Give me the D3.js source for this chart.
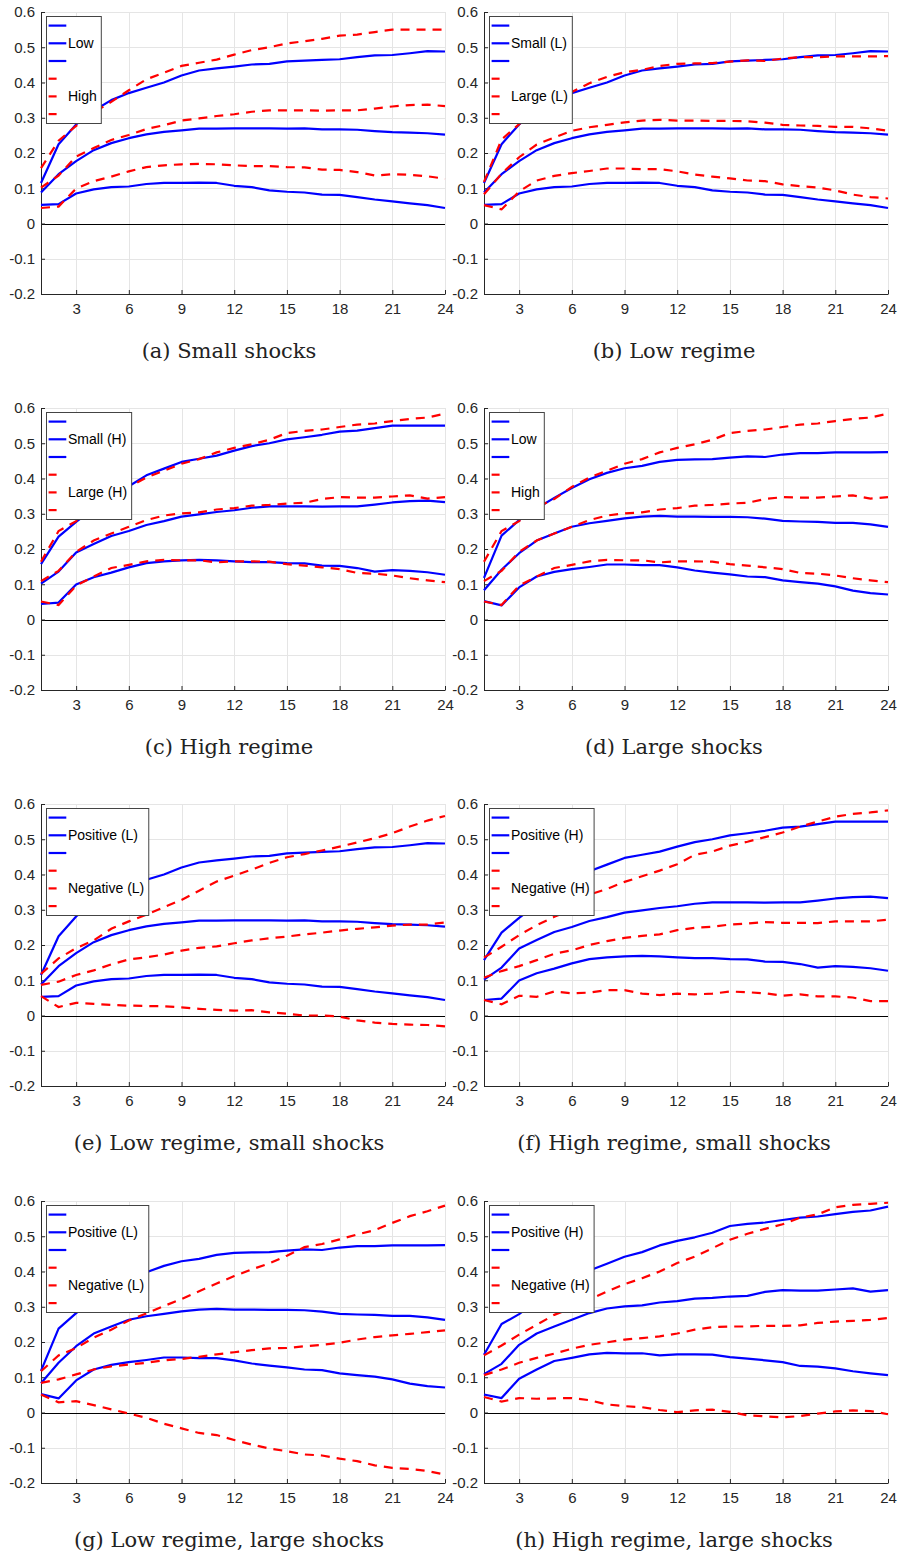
<!DOCTYPE html>
<html>
<head>
<meta charset="utf-8">
<script src="https://cdn.jsdelivr.net/npm/d3@7"></script>
<style>
  body { margin: 0; background: #fff; }
  svg { display: block; }
</style>
</head>
<body>
<svg id="chart" width="899" height="1557"></svg>
<script>
// horizons and ticks
const horizons = d3.range(1, 25);
const xTicks = [3, 6, 9, 12, 15, 18, 21, 24];
const yTicks = [-0.2, -0.1, 0, 0.1, 0.2, 0.3, 0.4, 0.5, 0.6];

// low regime, small shocks (positive)
const lowSmallUpper = [0.115, 0.225, 0.281, 0.32, 0.35, 0.37, 0.385, 0.40, 0.42, 0.434, 0.44, 0.445, 0.451, 0.453, 0.46, 0.462, 0.464, 0.466, 0.472, 0.477, 0.478, 0.483, 0.489, 0.488];
const lowSmallMid = [0.088, 0.14, 0.177, 0.208, 0.228, 0.242, 0.253, 0.26, 0.264, 0.269, 0.269, 0.27, 0.27, 0.27, 0.269, 0.27, 0.267, 0.267, 0.266, 0.262, 0.259, 0.258, 0.256, 0.252];
const lowSmallLower = [0.053, 0.055, 0.085, 0.097, 0.103, 0.105, 0.112, 0.115, 0.115, 0.116, 0.115, 0.107, 0.103, 0.094, 0.09, 0.088, 0.082, 0.081, 0.075, 0.068, 0.063, 0.057, 0.052, 0.044];

// high regime, small shocks (positive)
const highSmallUpper = [0.157, 0.235, 0.277, 0.315, 0.345, 0.378, 0.409, 0.428, 0.447, 0.456, 0.465, 0.479, 0.492, 0.50, 0.511, 0.517, 0.524, 0.533, 0.536, 0.543, 0.55, 0.55, 0.55, 0.55];
const highSmallMid = [0.102, 0.136, 0.19, 0.214, 0.237, 0.251, 0.268, 0.279, 0.292, 0.298, 0.305, 0.31, 0.317, 0.321, 0.321, 0.321, 0.32, 0.321, 0.321, 0.326, 0.332, 0.336, 0.337, 0.333];
const highSmallLower = [0.044, 0.048, 0.099, 0.12, 0.133, 0.148, 0.16, 0.165, 0.168, 0.169, 0.168, 0.165, 0.163, 0.163, 0.16, 0.159, 0.153, 0.152, 0.146, 0.136, 0.14, 0.138, 0.134, 0.127];

// low regime, large shocks (positive)
const lowLargeUpper = [0.118, 0.238, 0.282, 0.315, 0.345, 0.373, 0.398, 0.416, 0.429, 0.436, 0.447, 0.453, 0.454, 0.455, 0.459, 0.463, 0.461, 0.468, 0.472, 0.472, 0.474, 0.474, 0.474, 0.475];
const lowLargeMid = [0.083, 0.141, 0.188, 0.224, 0.244, 0.263, 0.273, 0.28, 0.287, 0.292, 0.294, 0.292, 0.292, 0.291, 0.291, 0.29, 0.286, 0.28, 0.278, 0.277, 0.274, 0.274, 0.27, 0.263];
const lowLargeLower = [0.052, 0.04, 0.091, 0.122, 0.135, 0.143, 0.149, 0.156, 0.156, 0.154, 0.154, 0.148, 0.139, 0.133, 0.128, 0.122, 0.12, 0.111, 0.106, 0.102, 0.094, 0.082, 0.075, 0.071];

// high regime, large shocks (positive)
const highLargeUpper = [0.164, 0.251, 0.279, 0.318, 0.342, 0.376, 0.403, 0.422, 0.442, 0.455, 0.474, 0.487, 0.497, 0.51, 0.529, 0.535, 0.539, 0.546, 0.553, 0.556, 0.563, 0.569, 0.573, 0.584];
const highLargeMid = [0.109, 0.138, 0.192, 0.224, 0.244, 0.263, 0.282, 0.295, 0.301, 0.304, 0.312, 0.316, 0.323, 0.325, 0.329, 0.331, 0.342, 0.347, 0.346, 0.346, 0.349, 0.352, 0.343, 0.347];
const highLargeLower = [0.051, 0.041, 0.096, 0.122, 0.146, 0.155, 0.165, 0.169, 0.168, 0.168, 0.162, 0.165, 0.165, 0.164, 0.157, 0.153, 0.148, 0.143, 0.132, 0.13, 0.125, 0.117, 0.111, 0.106];

// negative shocks, low regime, small
const negLowSmallUpper = [0.118, 0.162, 0.191, 0.213, 0.246, 0.267, 0.286, 0.307, 0.328, 0.354, 0.38, 0.397, 0.414, 0.433, 0.449, 0.458, 0.468, 0.479, 0.491, 0.503, 0.517, 0.536, 0.553, 0.566];
const negLowSmallMid = [0.087, 0.096, 0.115, 0.128, 0.145, 0.159, 0.165, 0.173, 0.184, 0.192, 0.196, 0.205, 0.213, 0.219, 0.224, 0.23, 0.235, 0.241, 0.246, 0.25, 0.255, 0.258, 0.258, 0.264];
const negLowSmallLower = [0.055, 0.024, 0.036, 0.033, 0.03, 0.028, 0.027, 0.026, 0.023, 0.019, 0.016, 0.014, 0.015, 0.009, 0.005, 0.0, 0.0, -0.003, -0.014, -0.02, -0.024, -0.026, -0.027, -0.031];

// negative shocks, high regime, small
const negHighSmallUpper = [0.164, 0.195, 0.228, 0.256, 0.28, 0.30, 0.343, 0.359, 0.379, 0.395, 0.411, 0.429, 0.456, 0.465, 0.482, 0.493, 0.506, 0.519, 0.536, 0.55, 0.564, 0.572, 0.576, 0.582];
const negHighSmallMid = [0.107, 0.126, 0.14, 0.157, 0.175, 0.185, 0.2, 0.211, 0.22, 0.226, 0.23, 0.242, 0.249, 0.252, 0.258, 0.261, 0.265, 0.263, 0.263, 0.262, 0.267, 0.267, 0.267, 0.272];
const negHighSmallLower = [0.044, 0.032, 0.056, 0.053, 0.068, 0.063, 0.065, 0.072, 0.072, 0.062, 0.058, 0.062, 0.06, 0.062, 0.068, 0.066, 0.063, 0.056, 0.06, 0.054, 0.054, 0.051, 0.041, 0.041];

// negative shocks, low regime, large
const negLowLargeUpper = [0.117, 0.162, 0.183, 0.212, 0.235, 0.261, 0.281, 0.302, 0.322, 0.344, 0.366, 0.387, 0.406, 0.423, 0.445, 0.469, 0.478, 0.491, 0.505, 0.517, 0.538, 0.557, 0.571, 0.587];
const negLowLargeMid = [0.084, 0.094, 0.108, 0.122, 0.131, 0.136, 0.141, 0.148, 0.152, 0.158, 0.165, 0.171, 0.177, 0.182, 0.183, 0.188, 0.192, 0.198, 0.207, 0.214, 0.219, 0.223, 0.228, 0.233];
const negLowLargeLower = [0.051, 0.029, 0.032, 0.021, 0.009, -0.003, -0.015, -0.032, -0.045, -0.058, -0.064, -0.078, -0.091, -0.102, -0.11, -0.119, -0.122, -0.131, -0.138, -0.15, -0.157, -0.16, -0.166, -0.176];

// negative shocks, high regime, large
const negHighLargeUpper = [0.162, 0.19, 0.221, 0.249, 0.277, 0.296, 0.32, 0.343, 0.364, 0.381, 0.40, 0.424, 0.442, 0.466, 0.49, 0.507, 0.521, 0.534, 0.553, 0.562, 0.582, 0.589, 0.592, 0.595];
const negHighLargeMid = [0.106, 0.122, 0.141, 0.155, 0.167, 0.181, 0.192, 0.199, 0.207, 0.211, 0.216, 0.224, 0.235, 0.242, 0.244, 0.244, 0.246, 0.246, 0.247, 0.254, 0.258, 0.26, 0.263, 0.268];
const negHighLargeLower = [0.044, 0.031, 0.041, 0.039, 0.04, 0.041, 0.035, 0.023, 0.018, 0.015, 0.007, 0.001, 0.006, 0.008, 0.002, -0.008, -0.011, -0.014, -0.01, -0.003, 0.003, 0.006, 0.004, -0.005];

const lowSmall = [lowSmallUpper, lowSmallMid, lowSmallLower];
const highSmall = [highSmallUpper, highSmallMid, highSmallLower];
const lowLarge = [lowLargeUpper, lowLargeMid, lowLargeLower];
const highLarge = [highLargeUpper, highLargeMid, highLargeLower];
const negLowSmall = [negLowSmallUpper, negLowSmallMid, negLowSmallLower];
const negHighSmall = [negHighSmallUpper, negHighSmallMid, negHighSmallLower];
const negLowLarge = [negLowLargeUpper, negLowLargeMid, negLowLargeLower];
const negHighLarge = [negHighLargeUpper, negHighLargeMid, negHighLargeLower];

const captions = ["(a) Small shocks", "(b) Low regime", "(c) High regime", "(d) Large shocks",
  "(e) Low regime, small shocks", "(f) High regime, small shocks",
  "(g) Low regime, large shocks", "(h) High regime, large shocks"];
const blueLabels = ["Low", "Small (L)", "Small (H)", "Low", "Positive (L)", "Positive (H)", "Positive (L)", "Positive (H)"];
const redLabels = ["High", "Large (L)", "Large (H)", "High", "Negative (L)", "Negative (H)", "Negative (L)", "Negative (H)"];
const blueSets = [lowSmall, lowSmall, highSmall, lowLarge, lowSmall, highSmall, lowLarge, highLarge];
const redSets = [highSmall, lowLarge, highLarge, highLarge, negLowSmall, negHighSmall, negLowLarge, negHighLarge];

const svg = d3.select("#chart");
const colLeft = [41, 484];
const rowTop = [12, 408, 804, 1201];
const W = 404, H = 282;
const captionX = [229, 674];

const axisColor = "#262626";
const sans = "'Liberation Sans', Arial, Helvetica, sans-serif";

captions.forEach((cap, i) => {
  const col = i % 2, row = Math.floor(i / 2);
  const g = svg.append("g").attr("transform", `translate(${colLeft[col]},${rowTop[row]})`);

  const x = d3.scaleLinear().domain([1, 24]).range([0, W]);
  const y = d3.scaleLinear().domain([-0.2, 0.6]).range([H, 0]);

  // grid
  g.append("g").selectAll("line").data(yTicks).join("line")
    .attr("x1", 0).attr("x2", W)
    .attr("y1", d => Math.round(y(d)) + 0.5).attr("y2", d => Math.round(y(d)) + 0.5)
    .attr("stroke", "#e5e5e5").attr("stroke-width", 1);
  g.append("g").selectAll("line").data(xTicks).join("line")
    .attr("y1", 0).attr("y2", H)
    .attr("x1", d => Math.round(x(d)) + 0.5).attr("x2", d => Math.round(x(d)) + 0.5)
    .attr("stroke", "#e5e5e5").attr("stroke-width", 1);

  // zero line
  g.append("line")
    .attr("x1", 0).attr("x2", W)
    .attr("y1", Math.round(y(0)) + 0.5).attr("y2", Math.round(y(0)) + 0.5)
    .attr("stroke", "#000").attr("stroke-width", 1);

  // axes, ticks pointing inward
  const fmt = d => String(+d.toFixed(1));
  const ax = g.append("g").attr("transform", `translate(0,${H})`)
    .call(d3.axisBottom(x).tickValues(xTicks).tickSizeInner(-4).tickSizeOuter(0).tickPadding(9).tickFormat(d3.format("d")));
  const ay = g.append("g")
    .call(d3.axisLeft(y).tickValues(yTicks).tickSizeInner(-4).tickSizeOuter(0).tickPadding(6).tickFormat(fmt));
  [ax, ay].forEach(a => {
    a.select(".domain").attr("stroke", axisColor);
    a.selectAll(".tick line").attr("stroke", axisColor);
    a.selectAll("text").attr("fill", axisColor).style("font-family", sans).style("font-size", "15px");
  });

  const line = d3.line().x((d, j) => x(horizons[j])).y(d => y(d));

  // series
  blueSets[i].forEach(s => {
    g.append("path").datum(s).attr("d", line)
      .attr("fill", "none").attr("stroke", "#0000ff").attr("stroke-width", 2.2)
      .attr("stroke-linejoin", "round");
  });
  redSets[i].forEach(s => {
    g.append("path").datum(s).attr("d", line)
      .attr("fill", "none").attr("stroke", "#ff0000").attr("stroke-width", 2.2)
      .attr("stroke-dasharray", "9,7");
  });

  // legend
  const lg = g.append("g").attr("transform", "translate(5,4)");
  const items = [
    { c: "#0000ff", t: "" }, { c: "#0000ff", t: blueLabels[i] }, { c: "#0000ff", t: "" },
    { c: "#ff0000", t: "" }, { c: "#ff0000", t: redLabels[i] }, { c: "#ff0000", t: "" }
  ];
  const box = lg.append("rect").attr("x", 0.5).attr("y", 0.5).attr("height", 107)
    .attr("fill", "#fff").attr("stroke", "#444").attr("stroke-width", 1);
  let maxW = 0;
  items.forEach((it, k) => {
    const yy = 9.6 + k * 17.7;
    lg.append("line").attr("x1", 2.6).attr("x2", 20.3).attr("y1", yy).attr("y2", yy)
      .attr("stroke", it.c).attr("stroke-width", 2.2)
      .attr("stroke-dasharray", it.c === "#ff0000" ? "8,20" : null);
    if (it.t) {
      const tx = lg.append("text").attr("x", 22).attr("y", yy).attr("dy", "0.35em")
        .style("font-family", sans).style("font-size", "14px").attr("fill", "#000").text(it.t);
      maxW = Math.max(maxW, tx.node().getComputedTextLength());
    }
  });
  box.attr("width", 22 + maxW + 4);

  // caption
  svg.append("text").attr("x", captionX[col]).attr("y", rowTop[row] + 346)
    .attr("text-anchor", "middle")
    .style("font-family", "'DejaVu Serif', serif").style("font-size", "21px")
    .attr("fill", "#222").text(cap);
});
</script>
</body>
</html>
